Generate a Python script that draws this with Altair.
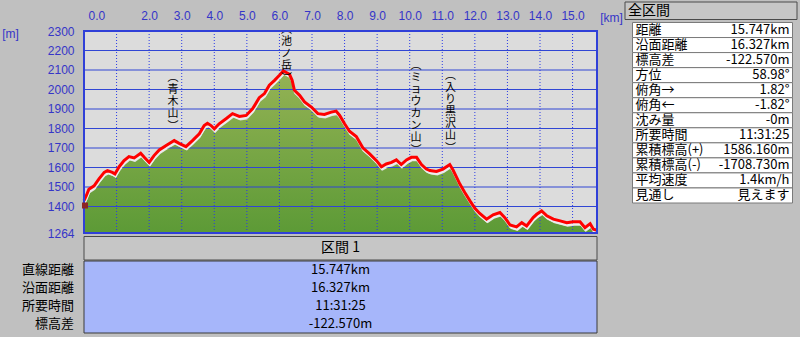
import altair as alt
import pandas as pd

# ---------------- data ----------------
km = [0.00, 0.07, 0.15, 0.31, 0.46, 0.62, 0.72, 0.87, 0.95, 1.08, 1.23, 1.38, 1.54, 1.74, 1.85,
      2.00, 2.15, 2.31, 2.51, 2.77, 2.92, 3.13, 3.33, 3.54, 3.69, 3.79, 3.90, 4.00, 4.15, 4.36,
      4.56, 4.77, 4.98, 5.18, 5.38, 5.54, 5.69, 5.85, 6.00, 6.12, 6.31, 6.39, 6.46, 6.62, 6.77,
      6.98, 7.18, 7.38, 7.59, 7.74, 7.85, 8.00, 8.15, 8.36, 8.56, 8.77, 8.98, 9.13, 9.28, 9.44,
      9.59, 9.74, 9.90, 10.05, 10.21, 10.36, 10.51, 10.62, 10.82, 11.02, 11.23, 11.33, 11.44,
      11.54, 11.69, 11.85, 12.00, 12.15, 12.36, 12.56, 12.77, 12.92, 13.08, 13.28, 13.44, 13.59,
      13.79, 13.90, 14.05, 14.21, 14.41, 14.62, 14.82, 15.02, 15.23, 15.38, 15.54, 15.64, 15.75]
elev = [1430, 1455, 1489, 1506, 1542, 1575, 1584, 1575, 1567, 1604, 1635, 1656, 1649, 1673, 1652,
        1626, 1661, 1690, 1712, 1738, 1724, 1707, 1738, 1773, 1815, 1827, 1815, 1798, 1824, 1850,
        1876, 1862, 1867, 1902, 1958, 1979, 2022, 2047, 2073, 2095, 2078, 2047, 1996, 1970, 1936,
        1910, 1876, 1872, 1884, 1889, 1867, 1824, 1786, 1759, 1701, 1670, 1635, 1604, 1618, 1626,
        1639, 1615, 1639, 1652, 1652, 1615, 1592, 1584, 1580, 1592, 1615, 1587, 1549,
        1515, 1472, 1429, 1391, 1364, 1335, 1357, 1369, 1343, 1305, 1295, 1317, 1300,
        1343, 1360, 1377, 1352, 1335, 1326, 1317, 1322, 1322, 1291, 1312, 1283, 1278]

peak_names = ["青木山", "池ノ岳", "ミョウカン山", "入り黒沢山"]
peak_km = [2.73, 6.22, 10.19, 11.25]
peak_top = [2030, 2275, 2092, 2040]   # elevation at the top of the first character

hiker_km = [0.03]
hiker_elev = [1405]

x_domain = [0, 15.75]
y_domain = [1264, 2300]
x_ticks = [0, 2, 3, 4, 5, 6, 7, 8, 9, 10, 11, 12, 13, 14, 15]
y_ticks = [1264, 1400, 1500, 1600, 1700, 1800, 1900, 2000, 2100, 2200, 2300]
h_grid = [1400, 1500, 1600, 1700, 1800, 1900, 2000, 2100, 2200]
v_grid = [1, 2, 3, 4, 5, 6, 7, 8, 9, 10, 11, 12, 13, 14, 15]

table_title = "全区間"
table_labels = ["距離", "沿面距離", "標高差", "方位", "俯角→", "俯角←", "沈み量", "所要時間",
                "累積標高(+)", "累積標高(-)", "平均速度", "見通し"]
table_values = ["15.747km", "16.327km", "-122.570m", "58.98°", "1.82°", "-1.82°", "-0m",
                "11:31:25", "1586.160m", "-1708.730m", "1.4km/h", "見えます"]

section_title = "区間 1"
bottom_labels = ["直線距離", "沿面距離", "所要時間", "標高差"]
bottom_values = ["15.747km", "16.327km", "11:31:25", "-122.570m"]

# ---------------- styling ----------------
JP = "Noto Sans CJK JP"
NUM = "Liberation Sans"
AXIS_BLUE = "#3535c8"
X_RANGE = [84, 597]
Y_RANGE = [233, 31]
PEAK_FS = 11
PEAK_LH = 12

xs = alt.Scale(domain=x_domain, range=X_RANGE, nice=False, zero=False)
ys = alt.Scale(domain=y_domain, range=Y_RANGE, nice=False, zero=False)
m_per_px = (y_domain[1] - y_domain[0]) / (Y_RANGE[0] - Y_RANGE[1])

one = alt.Data(values=[{"a": 0}])
profile = pd.DataFrame({"km": km, "elev": elev})
peaks = pd.DataFrame({
    "km": peak_km,
    "top": peak_top,
    "chars": ["\n".join(list(n)) for n in peak_names],
    "bottom": [t - len(n) * PEAK_LH * m_per_px for t, n in zip(peak_top, peak_names)],
    "open": ["︵"] * len(peak_names),
    "close": ["︶"] * len(peak_names),
})
hiker = pd.DataFrame({"km": hiker_km, "elev": hiker_elev})

axis_x = alt.Axis(orient="top", values=x_ticks, format=".1f", offset=-22, domain=False,
                  ticks=False, grid=False, labelPadding=0, labelColor=AXIS_BLUE, labelFont=NUM,
                  labelFontSize=12, labelOverlap=False, labelFlush=True, labelFlushOffset=-4,
                  title="[km]", titleX=611, titleY=-5, titleAngle=0, titleAlign="center",
                  titleBaseline="middle", titleColor=AXIS_BLUE, titleFont=NUM,
                  titleFontSize=12, titleFontWeight="normal")
axis_y = alt.Axis(orient="left", values=y_ticks, format="d", offset=-75, domain=False,
                  ticks=False, grid=False, labelPadding=1, labelColor=AXIS_BLUE, labelFont=NUM,
                  labelFontSize=12, labelOverlap=False,
                  title="[m]", titleX=-65, titleY=33, titleAngle=0, titleAlign="center",
                  titleBaseline="middle", titleColor=AXIS_BLUE, titleFont=NUM,
                  titleFontSize=12, titleFontWeight="normal")

def fx(d, axis=None):
    return alt.X(datum=d, type="quantitative", scale=xs, axis=axis)

def fy(d, axis=None):
    return alt.Y(datum=d, type="quantitative", scale=ys, axis=axis)

def qx(field):
    return alt.X(field, type="quantitative", scale=xs, axis=None)

def qy(field):
    return alt.Y(field, type="quantitative", scale=ys, axis=None)

# plot background (carries the axes)
bg = alt.Chart(one).mark_rect(fill="#dcdcdc").encode(
    x=fx(x_domain[0], axis_x), x2=alt.X2(datum=x_domain[1]),
    y=fy(y_domain[0], axis_y), y2=alt.Y2(datum=y_domain[1]))

green = alt.Gradient(gradient="linear", x1=0, x2=0, y1=0, y2=1,
                     stops=[alt.GradientStop(color="#93b254", offset=0),
                            alt.GradientStop(color="#5c9a36", offset=1)])
area = alt.Chart(profile).mark_area(color=green, yOffset=4, y2Offset=0, xOffset=1).encode(
    x=qx("km"), y=qy("elev"), y2=alt.Y2(datum=y_domain[0]))

hgrid = alt.Chart(pd.DataFrame({"e": h_grid})).mark_rule(color="#3046d4", strokeWidth=1.1).encode(
    y=qy("e"), x=fx(x_domain[0]), x2=alt.X2(datum=x_domain[1]))
vgrid = alt.Chart(pd.DataFrame({"k": v_grid})).mark_rule(
    color="#2b3be6", strokeWidth=1, strokeDash=[1, 2]).encode(
    x=qx("k"), y=fy(y_domain[0]), y2=alt.Y2(datum=y_domain[1]))

light = alt.Chart(profile).mark_line(color="#ececec", strokeWidth=2, yOffset=2.5, xOffset=0.5).encode(
    x=qx("km"), y=qy("elev"))
red = alt.Chart(profile).mark_line(color="#ff0000", strokeWidth=3).encode(
    x=qx("km"), y=qy("elev"))

peak_chars = alt.Chart(peaks).mark_text(align="center", baseline="top", lineBreak="\n",
                                        font=JP, fontSize=PEAK_FS, lineHeight=PEAK_LH,
                                        color="black").encode(
    x=qx("km"), y=qy("top"), text="chars:N")
peak_open = alt.Chart(peaks).mark_text(align="center", baseline="bottom", dy=-1,
                                       font=JP, fontSize=PEAK_FS, color="black").encode(
    x=qx("km"), y=qy("top"), text="open:N")
peak_close = alt.Chart(peaks).mark_text(align="center", baseline="top", dy=1,
                                        font=JP, fontSize=PEAK_FS, color="black").encode(
    x=qx("km"), y=qy("bottom"), text="close:N")

hiker_pt = alt.Chart(hiker).mark_point(shape="square", filled=True, color="#8e2424",
                                        size=36, opacity=1).encode(x=qx("km"), y=qy("elev"))

frame = alt.Chart(one).mark_rect(fillOpacity=0, stroke="#3040d8", strokeWidth=2).encode(
    x=fx(x_domain[0]), x2=alt.X2(datum=x_domain[1]),
    y=fy(y_domain[0]), y2=alt.Y2(datum=y_domain[1]))

# ---------------- right table ----------------
hx = alt.Scale(domain=[0, 1], range=[625, 797])
hy = alt.Scale(domain=[table_title], range=[2, 19.5], paddingInner=0, paddingOuter=0)
head_df = pd.DataFrame({"t": [table_title]})
head_rect = alt.Chart(head_df).mark_rect(fill="#c6c6c6", stroke="#4a4a4a", strokeWidth=1).encode(
    y=alt.Y("t:N", scale=hy, axis=None),
    x=alt.X(datum=0, type="quantitative", scale=hx, axis=None), x2=alt.X2(datum=1))
head_text = alt.Chart(head_df).mark_text(align="left", dx=3, font=JP, fontSize=14, color="black").encode(
    y=alt.Y("t:N", scale=hy, axis=None),
    x=alt.X(datum=0, type="quantitative", scale=hx, axis=None), text="t:N")

cx = alt.Scale(domain=[0, 1], range=[632.5, 792.5])
ty = alt.Scale(domain=table_labels, range=[22.5, 203], paddingInner=0, paddingOuter=0)
tab_df = pd.DataFrame({"label": table_labels, "value": table_values})
tab_rect = alt.Chart(tab_df).mark_rect(fill="white", stroke="#7a7a7a", strokeWidth=1).encode(
    y=alt.Y("label:N", scale=ty, axis=None),
    x=alt.X(datum=0, type="quantitative", scale=cx, axis=None), x2=alt.X2(datum=1))
tab_lab = alt.Chart(tab_df).mark_text(align="left", dx=3, font=JP, fontSize=13, color="black").encode(
    y=alt.Y("label:N", scale=ty, axis=None),
    x=alt.X(datum=0, type="quantitative", scale=cx, axis=None), text="label:N")
tab_val = alt.Chart(tab_df).mark_text(align="right", dx=-3, font=JP, fontSize=13, color="black").encode(
    y=alt.Y("label:N", scale=ty, axis=None),
    x=alt.X(datum=1, type="quantitative", scale=cx, axis=None), text="value:N")

# ---------------- bottom panel ----------------
x_mid = (x_domain[0] + x_domain[1]) / 2
by = alt.Scale(domain=[section_title], range=[236.5, 260], paddingInner=0, paddingOuter=0)
sec_df = pd.DataFrame({"t": [section_title]})
sec_rect = alt.Chart(sec_df).mark_rect(fill="#c6c6c6", stroke="#4a4a4a", strokeWidth=1).encode(
    y=alt.Y("t:N", scale=by, axis=None), x=fx(x_domain[0]), x2=alt.X2(datum=x_domain[1]))
sec_text = alt.Chart(sec_df).mark_text(align="center", font=JP, fontSize=14, color="black").encode(
    y=alt.Y("t:N", scale=by, axis=None), x=fx(x_mid), text="t:N")

n_b = len(bottom_labels)
py = alt.Scale(domain=[0, n_b], range=[261, 333], nice=False, zero=False)
bot_df = pd.DataFrame({"label": bottom_labels, "value": bottom_values,
                       "pos": [i + 0.5 for i in range(n_b)]})
panel = alt.Chart(one).mark_rect(fill="#a6b6fa", stroke="#3a3a3a", strokeWidth=1).encode(
    y=alt.Y(datum=0, type="quantitative", scale=py, axis=None), y2=alt.Y2(datum=n_b),
    x=fx(x_domain[0]), x2=alt.X2(datum=x_domain[1]))
bot_lab = alt.Chart(bot_df).mark_text(align="right", dx=-10, font=JP, fontSize=13, color="black").encode(
    y=alt.Y("pos:Q", scale=py, axis=None), x=fx(x_domain[0]), text="label:N")
bot_val = alt.Chart(bot_df).mark_text(align="center", font=JP, fontSize=13, color="black").encode(
    y=alt.Y("pos:Q", scale=py, axis=None), x=fx(x_mid), text="value:N")

chart = alt.layer(
    bg, area, hgrid, vgrid, light, red, peak_chars, peak_open, peak_close, frame, hiker_pt,
    head_rect, head_text, tab_rect, tab_lab, tab_val,
    sec_rect, sec_text, panel, bot_lab, bot_val,
).resolve_scale(x="independent", y="independent").properties(
    width=800, height=337, padding=0, background="#c0c0c0",
    autosize=alt.AutoSizeParams(type="none"),
).configure_view(strokeWidth=0)

chart.save("out.html", embed_options={"renderer": "svg", "actions": False})
